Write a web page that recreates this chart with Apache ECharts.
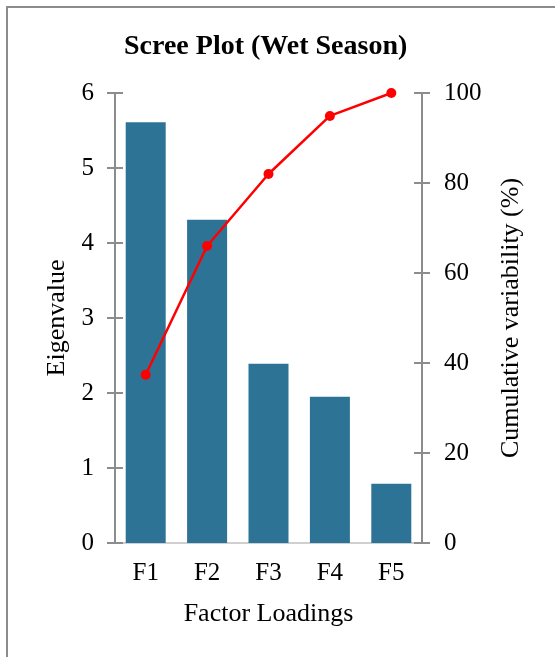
<!DOCTYPE html>
<html>
<head>
<meta charset="utf-8">
<script src="https://cdn.jsdelivr.net/npm/echarts@6/dist/echarts.min.js"></script>
<style>html,body{margin:0;padding:0;background:#fff;}#c{width:555px;height:657px;}</style>
</head>
<body>
<div id="c"></div>
<script>
const categories = ['F1', 'F2', 'F3', 'F4', 'F5'];
const eigenvalues = [5.61, 4.31, 2.39, 1.95, 0.79];
const cumulative = [37.4, 66.0, 82.0, 94.9, 100];
const leftTicks = {min: 0, max: 6, interval: 1};
const rightTicks = {min: 0, max: 100, interval: 20};

const FONT = '"Liberation Serif", "Times New Roman", serif';
const AX = '#8c8c8c';
const chart = echarts.init(document.getElementById('c'), null, {renderer: 'canvas'});
const hidden = {show: false};
chart.setOption({
  animation: false,
  backgroundColor: '#ffffff',
  title: {
    text: 'Scree Plot (Wet Season)',
    left: 124, top: 33, padding: 0,
    textStyle: {fontFamily: FONT, fontSize: 28, fontWeight: 'bold', color: '#000'}
  },
  graphic: [{
    type: 'rect', silent: true,
    shape: {x: 7, y: 7, width: 620, height: 720},
    style: {fill: 'none', stroke: '#8c8c8c', lineWidth: 2}
  }],
  grid: {left: 115, right: 133, top: 93, bottom: 114},
  xAxis: [{
    type: 'category', data: categories, position: 'bottom',
    axisLine: {lineStyle: {color: AX, width: 2}},
    axisTick: hidden,
    axisLabel: {fontFamily: FONT, fontSize: 25, color: '#000', margin: 18},
    name: 'Factor Loadings', nameLocation: 'middle', nameGap: 58,
    nameTextStyle: {fontFamily: FONT, fontSize: 26, color: '#000'}
  }, {
    type: 'category', data: categories, position: 'top',
    axisLine: {lineStyle: {color: '#d0d0d0', width: 2}},
    axisTick: hidden, axisLabel: hidden
  }],
  yAxis: [{
    type: 'value', position: 'left', min: leftTicks.min, max: leftTicks.max, interval: leftTicks.interval,
    axisLine: {show: true, lineStyle: {color: AX, width: 2}},
    axisTick: {show: true, length: 8, lineStyle: {color: AX, width: 2}},
    axisLabel: {fontFamily: FONT, fontSize: 25, color: '#000', margin: 21},
    splitLine: hidden,
    name: 'Eigenvalue', nameLocation: 'middle', nameGap: 41,
    nameTextStyle: {fontFamily: FONT, fontSize: 26, color: '#000'}
  }, {
    type: 'value', position: 'right', min: rightTicks.min, max: rightTicks.max, interval: rightTicks.interval,
    axisLine: {show: true, lineStyle: {color: AX, width: 2}},
    axisTick: {show: true, length: 8, lineStyle: {color: AX, width: 2}},
    axisLabel: {fontFamily: FONT, fontSize: 25, color: '#000', margin: 22},
    splitLine: hidden,
    name: 'Cumulative variability (%)', nameLocation: 'middle', nameGap: 76,
    nameTextStyle: {fontFamily: FONT, fontSize: 26, color: '#000'}
  }, {
    type: 'value', position: 'left', min: leftTicks.min, max: leftTicks.max, interval: leftTicks.interval,
    axisLine: hidden, axisLabel: hidden, splitLine: hidden,
    axisTick: {show: true, inside: true, length: 8, lineStyle: {color: AX, width: 2}}
  }, {
    type: 'value', position: 'right', min: rightTicks.min, max: rightTicks.max, interval: rightTicks.interval,
    axisLine: hidden, axisLabel: hidden, splitLine: hidden,
    axisTick: {show: true, inside: true, length: 8, lineStyle: {color: AX, width: 2}}
  }],
  series: [{
    type: 'bar', data: eigenvalues, yAxisIndex: 0, barWidth: 40,
    itemStyle: {color: '#2d7396'}
  }, {
    type: 'line', data: cumulative, yAxisIndex: 1,
    symbol: 'circle', symbolSize: 10,
    lineStyle: {color: '#ff0000', width: 2.5},
    itemStyle: {color: '#ff0000'}
  }]
});
</script>
</body>
</html>
